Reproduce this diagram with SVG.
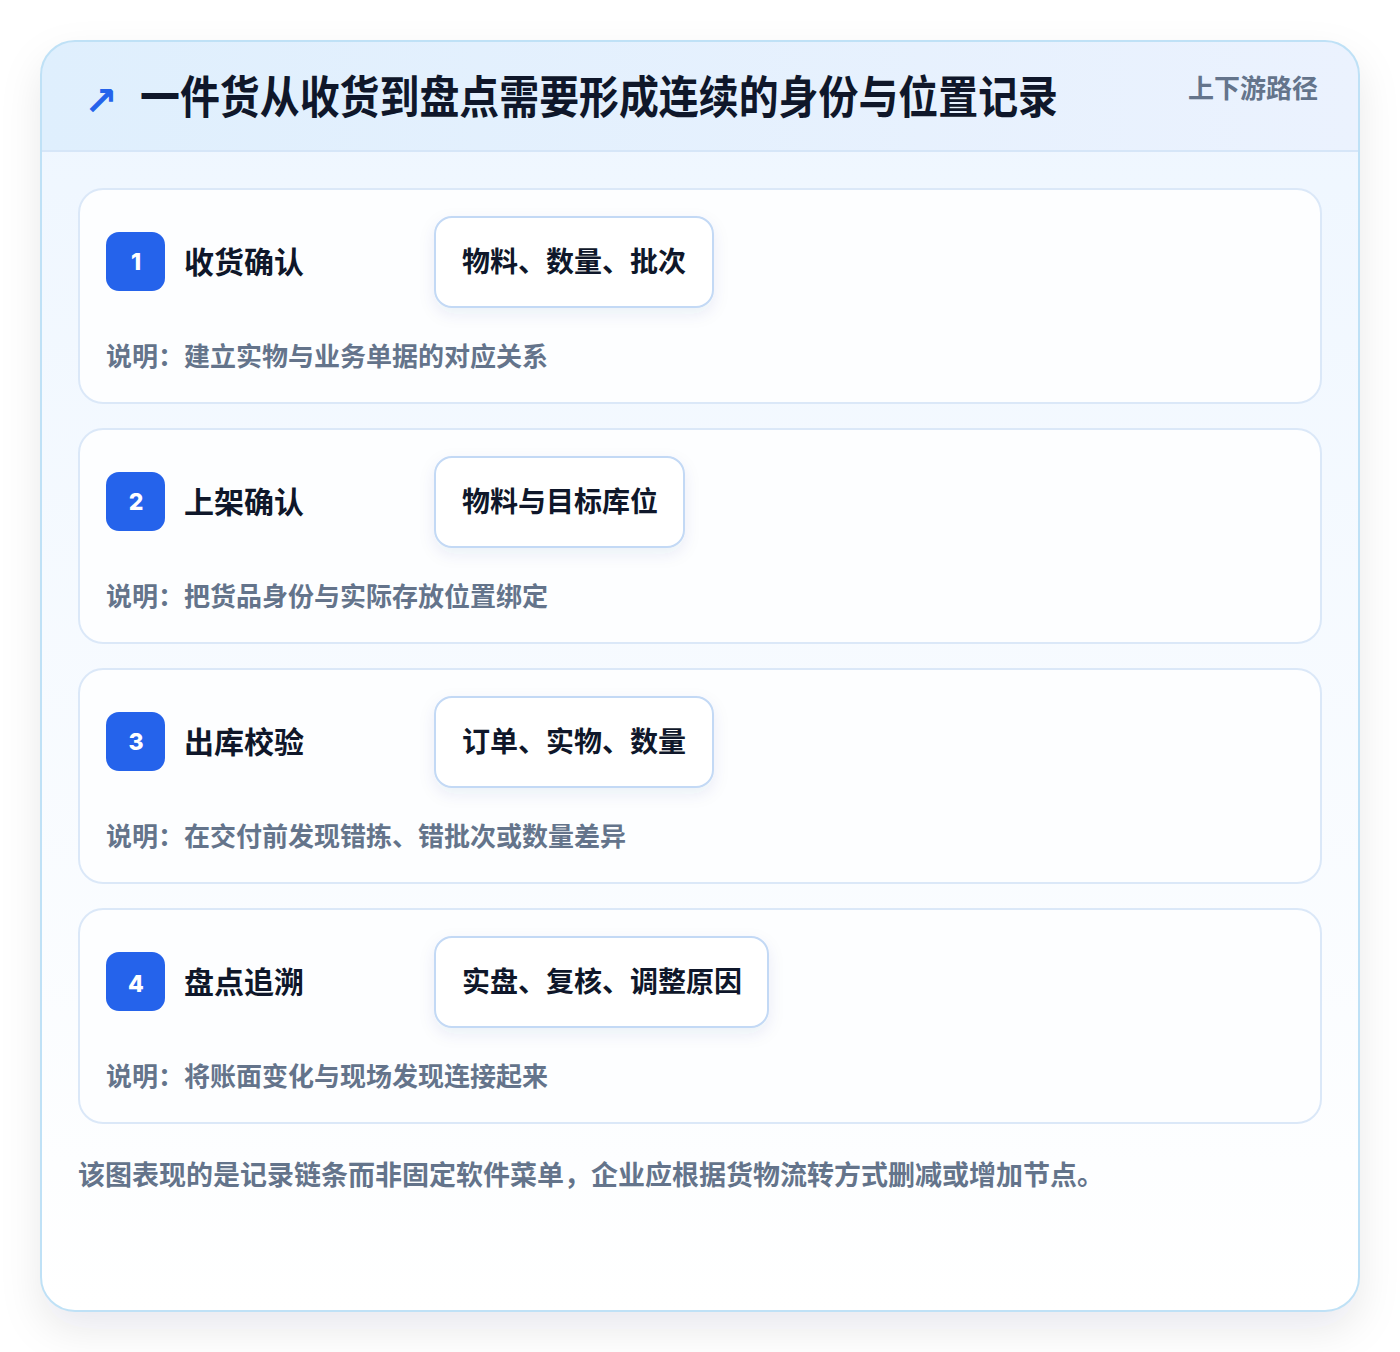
<svg xmlns="http://www.w3.org/2000/svg" width="1400" height="1352" viewBox="0 0 1400 1352">
<defs>
<linearGradient id="hdr" x1="0" y1="0" x2="1" y2="0">
<stop offset="0" stop-color="#dfeffd"/>
<stop offset="1" stop-color="#ebf2fe"/>
</linearGradient>
<linearGradient id="body" x1="0" y1="0" x2="0" y2="1">
<stop offset="0" stop-color="#eef6ff"/>
<stop offset="1" stop-color="#ffffff"/>
</linearGradient>
<filter id="cardShadow" x="-10%" y="-10%" width="120%" height="125%">
<feDropShadow dx="0" dy="18" stdDeviation="20" flood-color="#0f172a" flood-opacity="0.09"/>
</filter>
<filter id="chipShadow" x="-20%" y="-30%" width="140%" height="170%">
<feDropShadow dx="0" dy="6" stdDeviation="8" flood-color="#1e3a8a" flood-opacity="0.08"/>
</filter>
<clipPath id="outerClip"><rect x="41" y="41" width="1318" height="1270" rx="34"/></clipPath>
</defs>
<style>
text{font-family:"Noto Sans CJK SC","Noto Sans",sans-serif;font-weight:700}
.title{font-size:45px;fill:#0f172a}
.tag{font-size:26px;fill:#64748b}
.step{fill:#fdfeff;stroke:#dbe8f8;stroke-width:2}
.badge{fill:#2563eb}
.num{font-family:Inter,"Liberation Sans",sans-serif;font-size:23px;font-weight:800;fill:#ffffff;text-anchor:middle}
.stitle{font-size:30px;fill:#0f172a}
.chip{fill:#ffffff;stroke:#c3d9f5;stroke-width:2}
.ctext{font-size:28px;fill:#0f172a}
.desc{font-size:26px;fill:#64748b}
.foot{font-size:27px;fill:#64748b}
.icon{font-family:"DejaVu Sans",sans-serif;font-size:40px;fill:#2563eb}
</style>
<rect x="0" y="0" width="1400" height="1352" fill="#ffffff"/>
<g id="card">
<rect x="41" y="41" width="1318" height="1270" rx="34" fill="url(#body)" filter="url(#cardShadow)"/>
<g clip-path="url(#outerClip)">
<rect x="41" y="41" width="1318" height="110" fill="url(#hdr)"/>
<line x1="41" y1="151" x2="1359" y2="151" stroke="#d6e6f8" stroke-width="2"/>
</g>
<rect x="41" y="41" width="1318" height="1270" rx="34" fill="none" stroke="#bfe1f6" stroke-width="2"/>
</g>
<g id="header">
<text class="icon" x="84" y="115">↗</text>
<text class="title" x="140" y="114" textLength="918" lengthAdjust="spacingAndGlyphs">一件货从收货到盘点需要形成连续的身份与位置记录</text>
<text class="tag" x="1318" y="98" text-anchor="end">上下游路径</text>
</g>
<g id="step1">
<rect class="step" x="79" y="189" width="1242" height="214" rx="24"/>
<rect class="badge" x="106" y="232" width="59" height="59" rx="13"/>
<text class="num" x="136" y="270">1</text>
<text class="stitle" x="184" y="273">收货确认</text>
<rect class="chip" x="435" y="217" width="278" height="90" rx="17" filter="url(#chipShadow)"/>
<text class="ctext" x="462" y="272">物料、数量、批次</text>
<text class="desc" x="106" y="366">说明：建立实物与业务单据的对应关系</text>
</g>
<g id="step2">
<rect class="step" x="79" y="429" width="1242" height="214" rx="24"/>
<rect class="badge" x="106" y="472" width="59" height="59" rx="13"/>
<text class="num" x="136" y="510">2</text>
<text class="stitle" x="184" y="513">上架确认</text>
<rect class="chip" x="435" y="457" width="249" height="90" rx="17" filter="url(#chipShadow)"/>
<text class="ctext" x="462" y="512">物料与目标库位</text>
<text class="desc" x="106" y="606">说明：把货品身份与实际存放位置绑定</text>
</g>
<g id="step3">
<rect class="step" x="79" y="669" width="1242" height="214" rx="24"/>
<rect class="badge" x="106" y="712" width="59" height="59" rx="13"/>
<text class="num" x="136" y="750">3</text>
<text class="stitle" x="184" y="753">出库校验</text>
<rect class="chip" x="435" y="697" width="278" height="90" rx="17" filter="url(#chipShadow)"/>
<text class="ctext" x="462" y="752">订单、实物、数量</text>
<text class="desc" x="106" y="846">说明：在交付前发现错拣、错批次或数量差异</text>
</g>
<g id="step4">
<rect class="step" x="79" y="909" width="1242" height="214" rx="24"/>
<rect class="badge" x="106" y="952" width="59" height="59" rx="13"/>
<text class="num" x="136" y="992">4</text>
<text class="stitle" x="184" y="993">盘点追溯</text>
<rect class="chip" x="435" y="937" width="333" height="90" rx="17" filter="url(#chipShadow)"/>
<text class="ctext" x="462" y="992">实盘、复核、调整原因</text>
<text class="desc" x="106" y="1086">说明：将账面变化与现场发现连接起来</text>
</g>
<g id="connectors"></g>
<g id="footer">
<text class="foot" x="78" y="1185">该图表现的是记录链条而非固定软件菜单，企业应根据货物流转方式删减或增加节点。</text>
</g>
</svg>
